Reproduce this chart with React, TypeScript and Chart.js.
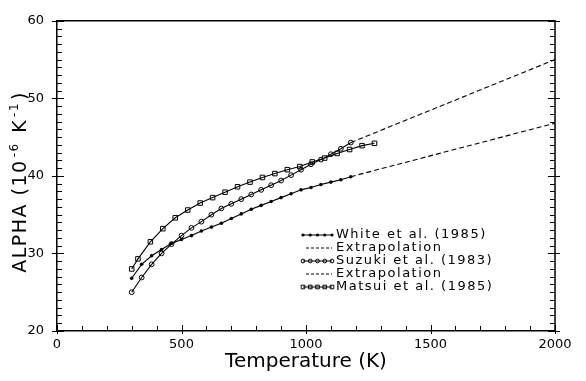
import React, { useEffect, useRef } from "react";
import { Chart, registerables } from "chart.js";

Chart.register(...registerables);

// ---- data ----
const whiteT = [300, 340, 380, 420, 460, 500, 540, 580, 620, 660, 700, 740, 780, 820, 860, 900, 940, 980, 1020, 1060, 1100, 1140, 1180];
const whiteAlpha = [26.8, 28.6, 29.7, 30.5, 31.3, 31.8, 32.3, 32.9, 33.4, 33.9, 34.5, 35.1, 35.7, 36.2, 36.7, 37.2, 37.7, 38.2, 38.5, 38.9, 39.2, 39.5, 39.9];
const whiteExtrapT = [1180, 2000];
const whiteExtrapAlpha = [39.9, 46.8];

const suzukiT = [300, 340, 380, 420, 460, 500, 540, 580, 620, 660, 700, 740, 780, 820, 860, 900, 940, 980, 1020, 1060, 1100, 1140, 1180];
const suzukiAlpha = [25.0, 26.9, 28.6, 30.0, 31.2, 32.3, 33.3, 34.1, 35.0, 35.8, 36.4, 37.0, 37.6, 38.2, 38.8, 39.4, 40.1, 40.8, 41.5, 42.1, 42.8, 43.5, 44.3];
const suzukiExtrapT = [1180, 2000];
const suzukiExtrapAlpha = [44.3, 55.0];

const matsuiT = [300, 325, 375, 425, 475, 525, 575, 625, 675, 725, 775, 825, 875, 925, 975, 1025, 1075, 1125, 1175, 1225, 1275];
const matsuiAlpha = [28.0, 29.3, 31.5, 33.2, 34.6, 35.6, 36.5, 37.2, 37.9, 38.6, 39.2, 39.8, 40.3, 40.8, 41.2, 41.8, 42.3, 42.9, 43.4, 43.9, 44.2];

const legendLabels = ["White et al. (1985)", "Extrapolation", "Suzuki et al. (1983)", "Extrapolation", "Matsui et al. (1985)"];
const xTickValues = [0, 500, 1000, 1500, 2000];
const yTickValues = [20, 30, 40, 50, 60];
const xMinorStep = 100;
const yMinorStep = 1;
const xTitle = "Temperature (K)";
const yTitleParts = [
  { t: "ALPHA (10", sup: false },
  { t: "-6", sup: true },
  { t: " K", sup: false },
  { t: "-1", sup: true },
  { t: ")", sup: false },
];

const FONT = "'DejaVu Sans', sans-serif";

const pts = (xs: number[], ys: number[]) => xs.map((x, i) => ({ x, y: ys[i] }));

function drawMarker(ctx: CanvasRenderingContext2D, kind: string, x: number, y: number) {
  ctx.save();
  ctx.lineWidth = 1;
  ctx.strokeStyle = "#000";
  ctx.fillStyle = "#000";
  ctx.beginPath();
  if (kind === "dot") {
    ctx.arc(x, y, 1.6, 0, Math.PI * 2);
    ctx.fill();
  } else if (kind === "circle") {
    ctx.arc(x, y, 1.9, 0, Math.PI * 2);
    ctx.stroke();
  } else if (kind === "square") {
    ctx.rect(x - 1.8, y - 1.8, 3.6, 3.6);
    ctx.stroke();
  }
  ctx.restore();
}

const markerKinds = ["dot", "dash", "circle", "dash", "square"];

const framePlugin = {
  id: "frameTicks",
  afterDraw(chart: any) {
    const { ctx, chartArea, scales } = chart;
    const { left, right, top, bottom } = chartArea;
    const xs = scales.x;
    const ys = scales.y;
    ctx.save();
    ctx.strokeStyle = "#000";
    ctx.lineWidth = 1.5;
    ctx.beginPath();
    ctx.moveTo(left, top);
    ctx.lineTo(right, top);
    ctx.lineTo(right, bottom);
    ctx.stroke();
    ctx.lineWidth = 1;
    ctx.beginPath();
    for (let v = xs.min; v <= xs.max; v += xMinorStep) {
      const px = Math.round(xs.getPixelForValue(v)) + 0.5;
      const major = xTickValues.includes(v);
      ctx.moveTo(px, bottom + (major ? 3 : 0));
      ctx.lineTo(px, bottom - (major ? 6 : 5));
    }
    for (let v = ys.min; v <= ys.max; v += yMinorStep) {
      const py = Math.round(ys.getPixelForValue(v)) + 0.5;
      const major = yTickValues.includes(v);
      ctx.moveTo(left - (major ? 5 : 0), py);
      ctx.lineTo(left + (major ? 7 : 5), py);
      ctx.moveTo(right + (major ? 5 : 0), py);
      ctx.lineTo(right - (major ? 7 : 5), py);
    }
    ctx.stroke();

    // y title
    ctx.save();
    ctx.translate(26, (top + bottom) / 2 + 6);
    ctx.rotate(-Math.PI / 2);
    const mainFont = `19px ${FONT}`;
    const supFont = `12px ${FONT}`;
    (ctx as any).letterSpacing = "1.5px";
    let total = 0;
    for (const p of yTitleParts) {
      ctx.font = p.sup ? supFont : mainFont;
      total += ctx.measureText(p.t).width + (p.sup ? 4 : 0);
    }
    let cx = -total / 2;
    ctx.fillStyle = "#000";
    ctx.textBaseline = "alphabetic";
    for (const p of yTitleParts) {
      ctx.font = p.sup ? supFont : mainFont;
      ctx.fillText(p.t, cx + (p.sup ? 2 : 0), p.sup ? -8 : 0);
      cx += ctx.measureText(p.t).width + (p.sup ? 4 : 0);
    }
    ctx.restore();

    // legend
    const lx0 = xs.getPixelForValue(xs.min) + 246;
    const lx1 = lx0 + 29;
    const tx = lx1 + 4;
    const rowY0 = ys.getPixelForValue(ys.min) - 96;
    const rowH = 13;
    ctx.font = `13px ${FONT}`;
    (ctx as any).letterSpacing = "1.5px";
    ctx.textBaseline = "middle";
    ctx.fillStyle = "#000";
    legendLabels.forEach((lab, i) => {
      const yy = rowY0 + i * rowH;
      const kind = markerKinds[i];
      ctx.save();
      ctx.lineWidth = 1;
      ctx.strokeStyle = "#000";
      ctx.beginPath();
      if (kind === "dash") {
        ctx.setLineDash([3, 2]);
        ctx.moveTo(lx0 + 3, yy);
      } else {
        ctx.moveTo(lx0, yy);
      }
      ctx.lineTo(lx1, yy);
      ctx.stroke();
      ctx.restore();
      if (kind !== "dash") {
        for (let k = 0; k < 5; k++) drawMarker(ctx, kind, lx0 + (k * (lx1 - lx0)) / 4, yy);
      }
      ctx.fillText(lab, tx, yy);
    });
    ctx.restore();
  },
};

export default function App() {
  const ref = useRef<HTMLCanvasElement | null>(null);
  useEffect(() => {
    document.body.style.margin = "0";
    const canvas = ref.current!;
    Chart.defaults.color = "#000";
    const lineBase = { borderColor: "#000", borderWidth: 1.1, fill: false, tension: 0 };
    const chart = new Chart(canvas, {
      type: "line",
      data: {
        datasets: [
          { ...lineBase, label: legendLabels[0], data: pts(whiteT, whiteAlpha), pointStyle: "circle", pointRadius: 1.8, pointBackgroundColor: "#000", pointBorderColor: "#000", pointBorderWidth: 0 },
          { ...lineBase, label: legendLabels[1], data: pts(whiteExtrapT, whiteExtrapAlpha), pointRadius: 0, borderDash: [5, 3], borderWidth: 1.1 },
          { ...lineBase, label: legendLabels[2], data: pts(suzukiT, suzukiAlpha), pointStyle: "circle", pointRadius: 2.4, pointBackgroundColor: "transparent", pointBorderColor: "#000", pointBorderWidth: 1 },
          { ...lineBase, label: legendLabels[3], data: pts(suzukiExtrapT, suzukiExtrapAlpha), pointRadius: 0, borderDash: [5, 3], borderWidth: 1.1 },
          { ...lineBase, label: legendLabels[4], data: pts(matsuiT, matsuiAlpha), pointStyle: "rect", pointRadius: 3.2, pointBackgroundColor: "transparent", pointBorderColor: "#000", pointBorderWidth: 1 },
        ],
      },
      options: {
        responsive: false,
        animation: false,
        devicePixelRatio: 1,
        layout: { padding: { left: 0, right: 31, top: 17, bottom: 0 } },
        plugins: { legend: { display: false }, tooltip: { enabled: false } },
        scales: {
          x: {
            type: "linear",
            min: 0,
            max: 2000,
            grid: { display: false, drawTicks: false },
            border: { display: true, color: "#000", width: 1.5 },
            afterBuildTicks: (s: any) => { s.ticks = xTickValues.map((v) => ({ value: v })); },
            afterFit: (s: any) => { s.height = 50; },
            ticks: { padding: 6, maxRotation: 0, autoSkip: false, font: { family: FONT, size: 13 }, color: "#000", callback: (v: any) => String(v) },
            title: { display: true, text: xTitle, font: { family: FONT, size: 20 }, color: "#000", padding: { top: 0, bottom: 7 } },
          },
          y: {
            type: "linear",
            min: 20,
            max: 60,
            grid: { display: false, drawTicks: false },
            border: { display: true, color: "#000", width: 1.5 },
            afterBuildTicks: (s: any) => { s.ticks = yTickValues.map((v) => ({ value: v })); },
            afterFit: (s: any) => { s.width = 57; },
            ticks: { padding: 13, autoSkip: false, font: { family: FONT, size: 13 }, color: "#000", callback: (v: any) => String(v) },
          },
        },
      },
      plugins: [framePlugin],
    } as any);
    return () => chart.destroy();
  }, []);
  return (
    <div style={{ width: 586, height: 381 }}>
      <canvas ref={ref} width={586} height={381} style={{ display: "block" }} />
    </div>
  );
}
